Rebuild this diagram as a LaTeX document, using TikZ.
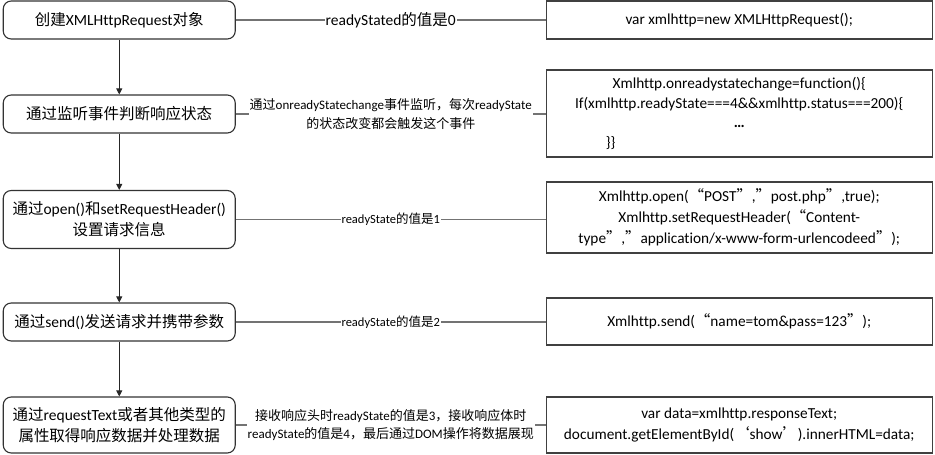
\documentclass[tikz,border=0pt]{standalone}
\usepackage{fontspec}
\setmainfont{Carlito}[Ligatures={NoCommon}]
\newfontfamily\zh{Noto Sans CJK SC}
\usetikzlibrary{arrows.meta}

\begin{document}
\begin{tikzpicture}[x=1pt,y=-1pt,
  flowbox/.style={draw=black!80,line width=1.1pt,rounded corners=8pt,minimum width=232pt,inner sep=1pt,align=center,font=\fontsize{15.5}{21}\selectfont},
  codebox/.style={draw=black!75,line width=1.1pt,minimum width=386pt,inner sep=1pt,align=center,font=\fontsize{15.3}{21}\selectfont},
  wire/.style={draw=black!55,line width=1.3pt},
  stateval/.style={fill=white,inner sep=1pt,align=center,font=\fontsize{12.5}{18.5}\selectfont},
  godown/.style={draw=black!85,line width=1pt,-{Triangle[length=6pt,width=6pt]}}]
  \useasboundingbox (0,0) rectangle (935,455);

  \node[flowbox,minimum height=38pt] (create) at (119.25,20) {{\zh 创建}XMLHttpRequest{\zh 对象}};
  \node[flowbox,minimum height=38pt] (listen) at (119.25,114) {{\zh 通过监听事件判断响应状态}};
  \node[flowbox,minimum height=58pt] (open) at (119.25,219.5) {{\zh 通过}open(){\zh 和}setRequestHeader()\\{\zh 设置请求信息}};
  \node[flowbox,minimum height=38pt] (send) at (119.25,322) {{\zh 通过}send(){\zh 发送请求并携带参数}};
  \node[flowbox,minimum height=56pt] (handle) at (119.25,425) {{\zh 通过}requestText{\zh 或者其他类型的}\\{\zh 属性取得响应数据并处理数据}};

  \node[codebox,minimum height=38pt] (code0) at (739.25,20) {var xmlhttp=new XMLHttpRequest();};
  \node[codebox,minimum height=87pt,font=\fontsize{15.3}{19.5}\selectfont] (code1) at (739.25,113.5) {Xmlhttp.onreadystatechange=function()\{\\If(xmlhttp.readyState===4\&\&xmlhttp.status===200)\{\\\textbf{…}\\\makebox[345pt][l]{\hspace{39pt}\}\}}};
  \node[codebox,minimum height=71pt] (code2) at (739.25,217.5) {Xmlhttp.open({\zh “}POST{\zh ”},{\zh ”}post.php{\zh ”},true);\\Xmlhttp.setRequestHeader({\zh “}Content-\\type{\zh ”},{\zh ”}application/x-www-form-urlencodeed{\zh ”});};
  \node[codebox,minimum height=47pt] (code3) at (739.25,321.5) {Xmlhttp.send({\zh “}name=tom\&pass=123{\zh ”});};
  \node[codebox,minimum height=56pt] (code4) at (739.25,425) {var data=xmlhttp.responseText;\\document.getElementById({\zh ‘}show{\zh ’}).innerHTML=data;};

  \draw[godown] (create) -- (listen);
  \draw[godown] (listen) -- (open);
  \draw[godown] (open) -- (send);
  \draw[godown] (send) -- (handle);

  \draw[wire] (create.east) -- node[stateval,font=\fontsize{15.5}{18}\selectfont] {readyStated{\zh 的值是}0} (create.east -| code0.west);
  \draw[wire] (listen.east) -- node[stateval,font=\fontsize{13}{18.5}\selectfont] {{\zh 通过}onreadyStatechange{\zh 事件监听，每次}readyState\\{\zh 的状态改变都会触发这个事件}} (listen.east -| code1.west);
  \draw[wire] (open.east) -- node[stateval] {readyState{\zh 的值是}1} (open.east -| code2.west);
  \draw[wire] (send.east) -- node[stateval] {readyState{\zh 的值是}2} (send.east -| code3.west);
  \draw[wire] (handle.east) -- node[stateval,font=\fontsize{13}{18.5}\selectfont] {{\zh 接收响应头时}readyState{\zh 的值是}3{\zh ，接收响应体时}\\readyState{\zh 的值是}4{\zh ，最后通过}DOM{\zh 操作将数据展现}} (handle.east -| code4.west);
\end{tikzpicture}
\end{document}
